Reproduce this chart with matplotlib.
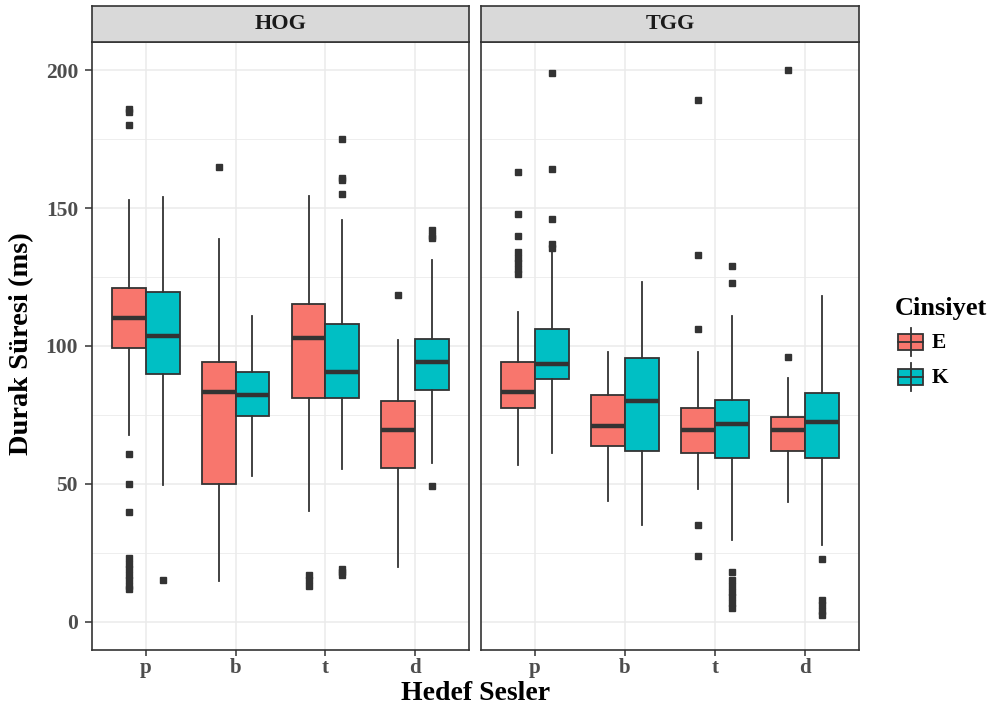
import matplotlib.pyplot as plt
from matplotlib.patches import Rectangle
from matplotlib.lines import Line2D

plt.rcParams['font.family'] = ['Liberation Serif', 'DejaVu Serif']
plt.rcParams['font.weight'] = 'bold'

# Data
categories = ['p', 'b', 't', 'd']
facets = ['HOG', 'TGG']
genders = ['E', 'K']

hog_e_whislo = [67.8, 14.9, 40.2, 20.0]
hog_e_q1 = [99.2, 49.9, 81.0, 55.7]
hog_e_med = [110.0, 83.2, 102.9, 69.4]
hog_e_q3 = [120.9, 94.1, 115.1, 80.2]
hog_e_whishi = [152.9, 138.7, 154.5, 102.2]
hog_e_fliers = [[186, 185, 180, 61, 50, 40, 23, 21, 19, 17, 15, 13, 12],
                [165], [17, 15, 13], [118.5]]

hog_k_whislo = [49.6, 52.7, 55.4, 57.7]
hog_k_q1 = [89.9, 74.5, 81.0, 84.1]
hog_k_med = [103.6, 82.1, 90.6, 94.1]
hog_k_q3 = [119.5, 90.5, 107.9, 102.5]
hog_k_whishi = [153.9, 111.0, 145.7, 131.2]
hog_k_fliers = [[15], [], [175, 161, 160, 155, 19, 18, 17], [142, 140, 139, 49.3]]

tgg_e_whislo = [56.9, 43.8, 48.2, 43.4]
tgg_e_q1 = [77.4, 63.6, 61.3, 62.1]
tgg_e_med = [83.2, 70.9, 69.4, 69.4]
tgg_e_q3 = [94.1, 82.4, 77.4, 74.4]
tgg_e_whishi = [112.4, 97.9, 97.8, 88.5]
tgg_e_fliers = [[163, 148, 140, 134, 132, 130, 128, 126], [],
                [189, 133, 106, 35, 24], [200, 96]]

tgg_k_whislo = [61.1, 35.1, 29.5, 27.9]
tgg_k_q1 = [88.2, 62.1, 59.3, 59.3]
tgg_k_med = [93.4, 80.1, 71.6, 72.4]
tgg_k_q3 = [106.3, 95.5, 80.4, 83.1]
tgg_k_whishi = [134.0, 123.3, 111.0, 118.1]
tgg_k_fliers = [[199, 164, 146, 137, 135.5], [],
                [129, 123, 18, 15, 13, 11, 9, 7, 5], [22.7, 8, 6, 4, 2.5]]

data = {
    ('HOG', 'E'): (hog_e_whislo, hog_e_q1, hog_e_med, hog_e_q3, hog_e_whishi, hog_e_fliers),
    ('HOG', 'K'): (hog_k_whislo, hog_k_q1, hog_k_med, hog_k_q3, hog_k_whishi, hog_k_fliers),
    ('TGG', 'E'): (tgg_e_whislo, tgg_e_q1, tgg_e_med, tgg_e_q3, tgg_e_whishi, tgg_e_fliers),
    ('TGG', 'K'): (tgg_k_whislo, tgg_k_q1, tgg_k_med, tgg_k_q3, tgg_k_whishi, tgg_k_fliers),
}

colors = {'E': '#F8766D', 'K': '#00BFC4'}
dark = '#333333'
grid_c = '#EBEBEB'
W, H = 999, 711

fig = plt.figure(figsize=(9.99, 7.11), dpi=100)

def px(x0, y0, x1, y1):
    return [x0 / W, 1 - y1 / H, (x1 - x0) / W, (y1 - y0) / H]

panel_x = [(92, 469), (481, 859)]
top, bottom, strip_top = 42, 650, 6

for fi, facet in enumerate(facets):
    x0, x1 = panel_x[fi]
    ax = fig.add_axes(px(x0, top, x1, bottom))
    ax.set_xlim(0.4, 4.6)
    ax.set_ylim(-10.2, 210.2)
    ax.set_yticks([0, 50, 100, 150, 200])
    ax.set_yticks([25, 75, 125, 175], minor=True)
    ax.set_xticks(range(1, 5))
    ax.set_xticklabels(categories)
    ax.grid(True, which='major', color=grid_c, linewidth=1.1)
    ax.grid(True, which='minor', axis='y', color=grid_c, linewidth=0.6)
    ax.set_axisbelow(True)
    for s in ax.spines.values():
        s.set_color(dark)
        s.set_linewidth(1.2)
    ax.tick_params(axis='x', which='major', length=4, width=1.1, color=dark,
                   labelsize=15, labelcolor='#4D4D4D', pad=2)
    ax.tick_params(axis='y', which='minor', length=0)
    if fi == 0:
        ax.tick_params(axis='y', which='major', length=5, width=1.1, color=dark,
                       labelsize=15.5, labelcolor='#4D4D4D', pad=5)
    else:
        ax.tick_params(axis='y', which='major', length=0, labelleft=False)

    for gi, g in enumerate(genders):
        wl, q1, med, q3, wh, fl = data[(facet, g)]
        stats = []
        for i in range(4):
            stats.append(dict(whislo=wl[i], q1=q1[i], med=med[i], q3=q3[i],
                              whishi=wh[i], fliers=fl[i]))
        off = -0.1875 if g == 'E' else 0.1875
        pos = [i + 1 + off for i in range(4)]
        ax.bxp(stats, positions=pos, widths=0.375, patch_artist=True,
               showcaps=False, manage_ticks=False,
               boxprops=dict(facecolor=colors[g], edgecolor=dark, linewidth=1.3),
               medianprops=dict(color=dark, linewidth=3.2, solid_capstyle='butt'),
               whiskerprops=dict(color=dark, linewidth=1.3),
               flierprops=dict(marker='s', markersize=4.2, markerfacecolor=dark,
                               markeredgecolor=dark, linestyle='none'))

    # facet strip
    sax = fig.add_axes(px(x0, strip_top, x1, top))
    sax.set_facecolor('#D9D9D9')
    sax.set_xticks([])
    sax.set_yticks([])
    for s in sax.spines.values():
        s.set_color(dark)
        s.set_linewidth(1.2)
    sax.text(0.5, 0.5, facet, ha='center', va='center', fontsize=16,
             color='#1A1A1A', transform=sax.transAxes)

fig.text((92 + 859) / 2 / W, 1 - 693 / H, 'Hedef Sesler', ha='center', va='center',
         fontsize=20)
fig.text(22 / W, 1 - 344 / H, 'Durak Süresi (ms)', ha='center', va='center',
         rotation=90, fontsize=20.5)

# legend drawn in pixel coordinates
lax = fig.add_axes([0, 0, 1, 1])
lax.set_xlim(0, W)
lax.set_ylim(H, 0)
lax.axis('off')
lax.text(895, 308, 'Cinsiyet', ha='left', va='center', fontsize=19)
for g, yc in zip(genders, [342, 377]):
    lax.add_line(Line2D([910.5, 910.5], [yc - 14, yc + 14], color=dark, linewidth=1.3))
    lax.add_patch(Rectangle((898, yc - 8), 25, 16, facecolor=colors[g],
                            edgecolor=dark, linewidth=1.3))
    lax.add_line(Line2D([898, 923], [yc, yc], color=dark, linewidth=1.3))
    lax.text(932, yc + 1, g, ha='left', va='center', fontsize=15.5)

fig.savefig('out.png', dpi=100)
